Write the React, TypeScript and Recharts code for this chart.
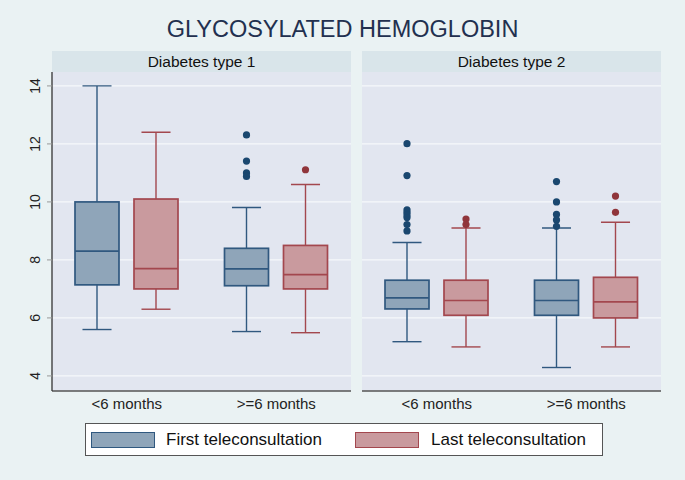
import React from 'react';
import { ComposedChart, Bar, XAxis, YAxis, CartesianGrid } from 'recharts';

const chartTitle = 'GLYCOSYLATED HEMOGLOBIN';
const panelTitles = ['Diabetes type 1', 'Diabetes type 2'];
const periods = ['<6 months', '>=6 months'];
const seriesLabels = ['First teleconsultation', 'Last teleconsultation'];
const yTicks = [4, 6, 8, 10, 12, 14];

// [lower whisker, Q1, median, Q3, upper whisker] for "<6 months", ">=6 months"
const t1First = [[5.6, 7.14, 8.3, 10.0, 14.0], [5.53, 7.11, 7.69, 8.4, 9.81]];
const t1Last = [[6.3, 7.0, 7.7, 10.1, 12.4], [5.49, 7.0, 7.49, 8.5, 10.6]];
const t2First = [[5.18, 6.31, 6.69, 7.3, 8.6], [4.29, 6.09, 6.6, 7.3, 9.1]];
const t2Last = [[5.0, 6.09, 6.6, 7.3, 9.1], [5.0, 6.0, 6.55, 7.4, 9.3]];

// outside values
const t1FirstOut = [[], [12.31, 11.41, 11.0, 10.88]];
const t1LastOut = [[], [11.11]];
const t2FirstOut = [[12.01, 10.91, 9.73, 9.64, 9.55, 9.46, 9.22, 9.0], [10.7, 10.0, 9.57, 9.38, 9.16]];
const t2LastOut = [[9.41, 9.22], [10.2, 9.64]];

const FONT = '"Liberation Sans", Arial, Helvetica, sans-serif';
const BLUE_FILL = '#8fa5b9';
const BLUE_LINE = '#30587f';
const BLUE_DOT = '#1a476f';
const RED_FILL = '#c99a9e';
const RED_LINE = '#a3474e';
const RED_DOT = '#90353b';
const PLOT_BG = '#e2e6f0';
const HEADER_BG = '#d9e5ea';
const OUTER_BG = '#eaf2f3';

const buildRows = (first: number[][], last: number[][], fo: number[][], lo: number[][]) =>
  periods.map((p, i) => ({
    period: p,
    firstBox: [first[i][1], first[i][3]],
    lastBox: [last[i][1], last[i][3]],
    firstStats: first[i],
    lastStats: last[i],
    firstOut: fo[i],
    lastOut: lo[i],
  }));

const rows1 = buildRows(t1First, t1Last, t1FirstOut, t1LastOut);
const rows2 = buildRows(t2First, t2Last, t2FirstOut, t2LastOut);

const makeBoxShape = (statsKey: string, outKey: string, fill: string, stroke: string, dot: string) =>
  (props: any) => {
    const { x, y, width, height, payload } = props;
    const s = payload[statsKey];
    const top = Math.min(y, y + height);
    const bottom = Math.max(y, y + height);
    const ppu = (bottom - top) / (s[3] - s[1]);
    const py = (v: number) => bottom - (v - s[1]) * ppu;
    const cx = x + width / 2;
    const cap = width * 0.33;
    const sw = 1.4;
    return (
      <g>
        <line x1={cx} x2={cx} y1={py(s[3])} y2={py(s[4])} stroke={stroke} strokeWidth={sw} />
        <line x1={cx} x2={cx} y1={py(s[1])} y2={py(s[0])} stroke={stroke} strokeWidth={sw} />
        <line x1={cx - cap} x2={cx + cap} y1={py(s[4])} y2={py(s[4])} stroke={stroke} strokeWidth={sw} />
        <line x1={cx - cap} x2={cx + cap} y1={py(s[0])} y2={py(s[0])} stroke={stroke} strokeWidth={sw} />
        <rect x={x} y={top} width={width} height={bottom - top} fill={fill} stroke={stroke} strokeWidth={1.7} />
        <line x1={x} x2={x + width} y1={py(s[2])} y2={py(s[2])} stroke={stroke} strokeWidth={1.7} />
        {payload[outKey].map((v: number, i: number) => (
          <circle key={i} cx={cx} cy={py(v)} r={3.6} fill={dot} />
        ))}
      </g>
    );
  };

const firstShape = makeBoxShape('firstStats', 'firstOut', BLUE_FILL, BLUE_LINE, BLUE_DOT);
const lastShape = makeBoxShape('lastStats', 'lastOut', RED_FILL, RED_LINE, RED_DOT);

const YTick = (props: any) => {
  const { x, y, payload } = props;
  const tx = x - 5;
  return (
    <text x={tx} y={y} transform={`rotate(-90 ${tx} ${y})`} textAnchor="middle" fill="#222" fontSize={14} fontFamily={FONT}>
      {payload.value}
    </text>
  );
};

function Panel({ rows, showY, left, width }: { rows: any[]; showY: boolean; left: number; width: number }) {
  return (
    <div style={{ position: 'absolute', left, top: 0 }}>
      <ComposedChart
        width={width}
        height={420}
        data={rows}
        margin={{ top: 72, right: 0, left: 0, bottom: 0 }}
        barSize={44}
        barGap={15}
      >
        <CartesianGrid
          vertical={false}
          stroke="#f6f8fb"
          strokeWidth={1.2}
          fill={PLOT_BG}
          fillOpacity={1}
          horizontalValues={yTicks}
        />
        <XAxis
          dataKey="period"
          height={29}
          tickLine={false}
          tickSize={6}
          tickMargin={1}
          axisLine={{ stroke: '#555', strokeWidth: 1.5 }}
          tick={{ fill: '#222', fontSize: 15, fontFamily: FONT }}
          interval={0}
        />
        <YAxis
          hide={!showY}
          width={52}
          type="number"
          domain={[3.48, 14.48]}
          ticks={yTicks}
          allowDataOverflow
          tick={<YTick />}
          tickSize={5}
          tickMargin={2}
          tickLine={{ stroke: '#999' }}
          axisLine={{ stroke: '#333', strokeWidth: 1.3 }}
        />
        <Bar dataKey="firstBox" shape={firstShape} isAnimationActive={false} />
        <Bar dataKey="lastBox" shape={lastShape} isAnimationActive={false} />
      </ComposedChart>
    </div>
  );
}

const headerStyle = (left: number): React.CSSProperties => ({
  position: 'absolute',
  left,
  top: 51,
  width: 299,
  height: 21,
  background: HEADER_BG,
  textAlign: 'center',
  lineHeight: '21px',
  fontSize: 15.5,
  color: '#111',
  fontFamily: FONT,
});

const swatch = (left: number, fill: string, stroke: string): React.CSSProperties => ({
  position: 'absolute',
  left,
  top: 8,
  width: 62,
  height: 14,
  background: fill,
  border: `1.5px solid ${stroke}`,
});

const legendText = (left: number): React.CSSProperties => ({
  position: 'absolute',
  left,
  top: 0,
  lineHeight: '32px',
  fontSize: 17,
  color: '#111',
  fontFamily: FONT,
  whiteSpace: 'nowrap',
});

export default function App() {
  return (
    <div style={{ position: 'absolute', left: 0, top: 0, width: 685, height: 480, background: OUTER_BG, overflow: 'hidden', fontFamily: FONT }}>
      <div style={{ position: 'absolute', left: 0, top: 15, width: 685, textAlign: 'center', fontSize: 23.5, color: '#22304f', lineHeight: '28px' }}>
        {chartTitle}
      </div>
      <div style={headerStyle(52)}>{panelTitles[0]}</div>
      <div style={headerStyle(362)}>{panelTitles[1]}</div>
      <Panel rows={rows1} showY={true} left={0} width={351} />
      <Panel rows={rows2} showY={false} left={362} width={299} />
      <div style={{ position: 'absolute', left: 85, top: 423, width: 516, height: 31, background: '#fff', border: '1px solid #555' }}>
        <div style={swatch(5, BLUE_FILL, BLUE_LINE)} />
        <div style={legendText(80)}>{seriesLabels[0]}</div>
        <div style={swatch(269, RED_FILL, RED_LINE)} />
        <div style={legendText(345)}>{seriesLabels[1]}</div>
      </div>
    </div>
  );
}
